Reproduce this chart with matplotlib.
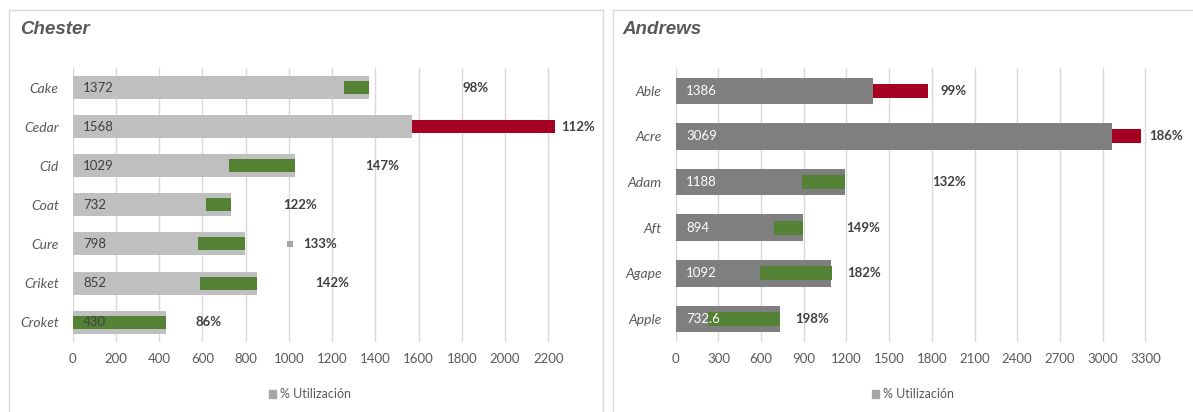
import matplotlib
matplotlib.use("Agg")
import matplotlib.pyplot as plt
from matplotlib.patches import Rectangle
from matplotlib.lines import Line2D
from matplotlib import font_manager as fm

# ---------------- data ----------------
chester_cats = ["Cake", "Cedar", "Cid", "Coat", "Cure", "Criket", "Croket"]
chester_vals = [1372, 1568, 1029, 732, 798, 852, 430]
chester_seg_start = [1256, 1568, 721, 616, 578, 590, 0]
chester_seg_end = [1372, 2230, 1029, 732, 798, 852, 430]
chester_seg_kind = ["g", "r", "g", "g", "g", "g", "g"]
chester_util = ["98%", "112%", "147%", "122%", "133%", "142%", "86%"]
chester_util_x = [1805, 2261, 1352, 974, 1067, 1121, 566]
chester_ticks = list(range(0, 2201, 200))

andrews_cats = ["Able", "Acre", "Adam", "Aft", "Agape", "Apple"]
andrews_vals = [1386, 3069, 1188, 894, 1092, 732.6]
andrews_labels = ["1386", "3069", "1188", "894", "1092", "732.6"]
andrews_seg_start = [1386, 3069, 890, 691, 592, 229]
andrews_seg_end = [1775, 3270, 1188, 894, 1096, 732.6]
andrews_seg_kind = ["r", "r", "g", "g", "g", "g"]
andrews_util = ["99%", "186%", "132%", "149%", "182%", "198%"]
andrews_util_x = [1864, 3326, 1799, 1197, 1206, 838]
andrews_ticks = list(range(0, 3301, 300))

legend_label = "% Utilización"

# ---------------- styles ----------------
GREEN = "#548235"
RED = "#a50021"
LGRAY = "#bfbfbf"
DGRAY = "#7f7f7f"
UTIL_GRAY = "#a6a6a6"
TXT = "#404040"
AX_TXT = "#595959"
GRID = "#d9d9d9"

avail = {f.name for f in fm.fontManager.ttflist}
base_font = "Lato" if "Lato" in avail else "DejaVu Sans"
title_font = "Liberation Sans Narrow" if "Liberation Sans Narrow" in avail else "Liberation Sans"
plt.rcParams["font.family"] = [base_font, "DejaVu Sans"]

W, H = 1193, 412
fig = plt.figure(figsize=(W / 100, H / 100), dpi=100)
fig.patch.set_facecolor("white")


def px_rect(x0, y_top, x1, y_bot):
    return [x0 / W, 1 - y_bot / H, (x1 - x0) / W, (y_bot - y_top) / H]


def panel(ax, cats, vals, labels, s0, s1, kinds, util, util_x, ticks, xmax,
          bar_color, val_color, bar_h, seg_h, title, title_x, legend_cx, util_marker=None):
    n = len(cats)
    ys = list(range(n))
    ax.barh(ys, vals, height=bar_h, color=bar_color, zorder=2)
    widths = [b - a for a, b in zip(s0, s1)]
    cols = [GREEN if k == "g" else RED for k in kinds]
    ax.barh(ys, widths, left=s0, height=seg_h, color=cols, zorder=3, clip_on=False)
    for y, lab in zip(ys, labels):
        ax.annotate(lab, (0, y), xytext=(7.5, 0), textcoords="offset points",
                    ha="left", va="center", fontsize=9.5, color=val_color, zorder=5)
    for y, u, ux in zip(ys, util, util_x):
        ax.text(ux, y, u, ha="left", va="center", fontsize=9.5, color=TXT,
                fontweight="bold", zorder=5, clip_on=False)
    if util_marker is not None:
        idx, mx0, mx1 = util_marker
        ax.barh([idx], [mx1 - mx0], left=[mx0], height=0.16, color=UTIL_GRAY, zorder=3)
    ax.set_xlim(0, xmax)
    ax.set_ylim(n - 0.5, -0.5)
    ax.set_xticks(ticks)
    ax.set_xticklabels([str(t) for t in ticks])
    ax.set_yticks(ys)
    ax.set_yticklabels(cats, fontstyle="italic")
    ax.tick_params(axis="x", length=0, pad=8, labelsize=9.5, labelcolor=AX_TXT)
    ax.tick_params(axis="y", length=0, pad=10, labelsize=10, labelcolor=AX_TXT)
    for s in ax.spines.values():
        s.set_visible(False)
    ax.grid(axis="x", color=GRID, linewidth=1, zorder=0)
    ax.set_axisbelow(True)
    ax.set_facecolor("none")
    fig.text(title_x / W, 1 - 29.5 / H, title, fontsize=13.5, fontweight="heavy",
             fontstyle="italic", color=AX_TXT, family=[title_font, "DejaVu Sans"],
             fontstretch="condensed", ha="left", va="center")
    # legend
    h = [Rectangle((0, 0), 1, 1, color=UTIL_GRAY)]
    leg = fig.legend(h, [legend_label], loc="center", bbox_to_anchor=(legend_cx / W, 1 - 394 / H),
                     frameon=False, fontsize=9, handlelength=0.6, handleheight=0.6,
                     handletextpad=0.3, borderpad=0)
    for t in leg.get_texts():
        t.set_color(AX_TXT)


ax1 = fig.add_axes(px_rect(72.7, 68, 72.7 + 2260 * 0.2162, 341.7))
panel(ax1, chester_cats, chester_vals, [str(v) for v in chester_vals],
      chester_seg_start, chester_seg_end, chester_seg_kind, chester_util, chester_util_x,
      chester_ticks, 2260, LGRAY, TXT, 0.59, 0.33, "Chester", 20, 310,
      util_marker=(4, 993, 1020))

ax2 = fig.add_axes(px_rect(675.7, 68, 675.7 + 3350 * 0.1423, 341.7))
panel(ax2, andrews_cats, andrews_vals, andrews_labels,
      andrews_seg_start, andrews_seg_end, andrews_seg_kind, andrews_util, andrews_util_x,
      andrews_ticks, 3350, DGRAY, "white", 0.58, 0.31, "Andrews", 622, 913)

# panel borders
BORDER = "#d9d9d9"
for xs, ys in [([9, 9], [10, 412]), ([9, 603], [10, 10]), ([603, 603], [10, 412]),
               ([613, 613], [10, 412]), ([613, 1193], [10, 10])]:
    fig.add_artist(Line2D([x / W for x in xs], [1 - y / H for y in ys], color=BORDER, linewidth=1))

fig.savefig("out.png", dpi=100, facecolor="white")
